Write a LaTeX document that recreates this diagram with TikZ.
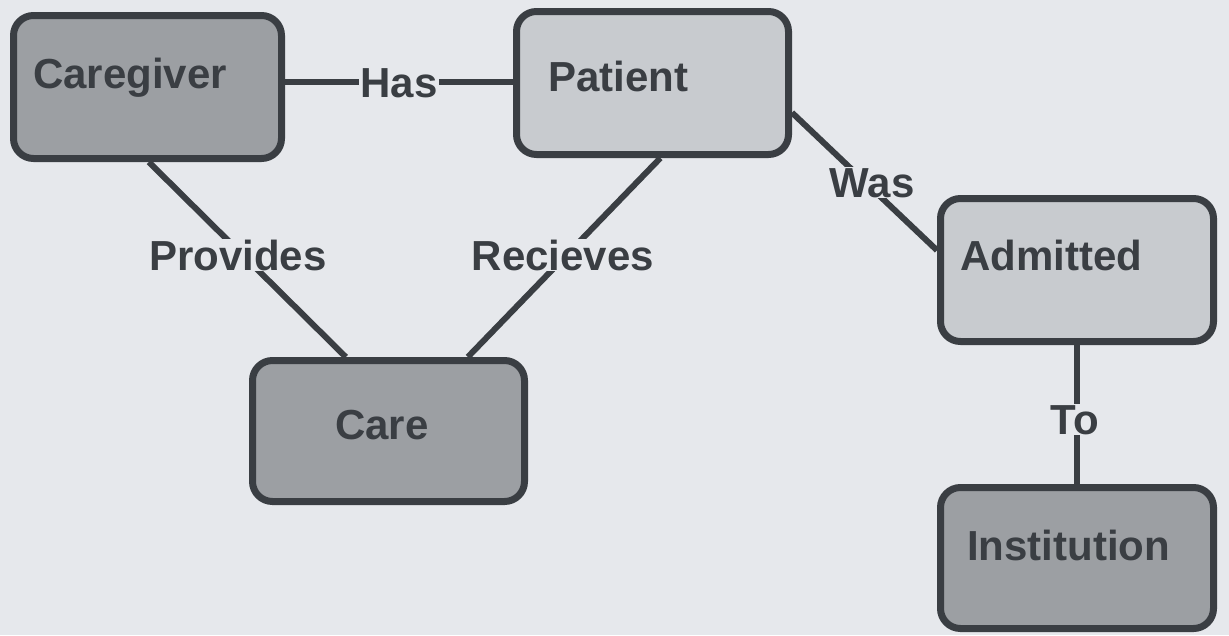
\documentclass[tikz,border=0pt]{standalone}
\usepackage{fontspec}
\setmainfont{Liberation Sans}
\definecolor{bg}{HTML}{E6E8EC}
\definecolor{ink}{HTML}{3A3E43}
\definecolor{darkbox}{HTML}{9C9FA3}
\definecolor{lightbox}{HTML}{C8CBCF}
\begin{document}
\begin{tikzpicture}[x=1pt,y=-1pt,
  box/.style={draw=ink, line width=7pt, rounded corners=20pt, inner sep=0pt},
  dbox/.style={box, fill=darkbox},
  lbox/.style={box, fill=lightbox},
  txt/.style={font=\fontsize{42}{48}\selectfont\bfseries, text=ink, inner sep=0pt, anchor=base west},
  lbl/.style={font=\fontsize{42}{48}\selectfont\bfseries, text=ink, fill=bg, inner sep=1pt, anchor=base},
  link/.style={draw=ink, line width=6pt}]
\fill[bg] (0,0) rectangle (1229,635);
\useasboundingbox (0,0) rectangle (1229,635);
% boxes
\node[dbox, minimum width=268pt, minimum height=143pt] (cg) at (147.5,87) {};
\node[lbox, minimum width=272pt, minimum height=143pt] (pat) at (652.5,83) {};
\node[lbox, minimum width=273pt, minimum height=143pt] (adm) at (1077,270) {};
\node[dbox, minimum width=272pt, minimum height=141pt] (care) at (388.5,431) {};
\node[dbox, minimum width=273pt, minimum height=141pt] (inst) at (1077,558) {};
% box texts
\node[txt] (cgT) at (33,88) {Caregiver};
\node[txt] (patT) at (548,91) {Patient};
\node[txt] (admT) at (960,270) {Admitted};
\node[txt] (careT) at (335,439) {Care};
\node[txt] (instT) at (967,560) {Institution};
% connectors
\draw[link] (cg.east |- 0,82) -- (pat.west |- 0,82);
\draw[link] (cg.-89) -- (care.120);
\draw[link] (pat.-84) -- (care.43);
\draw[link] (pat.-12) -- (adm.172);
\draw[link] (adm.south) -- (inst.north);
% connector labels
\node[lbl] (has) at (399,97) {Has};
\node[lbl] (prov) at (238,270) {Provides};
\node[lbl] (rec) at (563,270) {Recieves};
\node[lbl] (was) at (872,197) {Was};
\node[lbl] (to) at (1075,434) {To};
\end{tikzpicture}
\end{document}
